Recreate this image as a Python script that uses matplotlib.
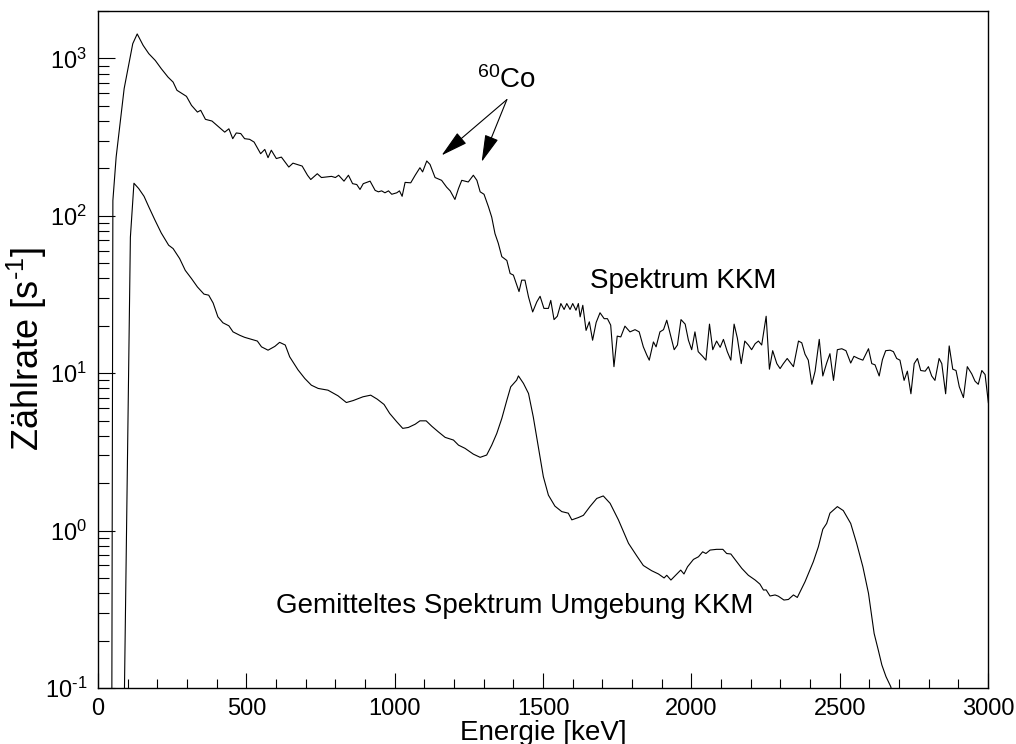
import numpy as np
import matplotlib
matplotlib.use('Agg')
import matplotlib.pyplot as plt
from matplotlib.ticker import LogLocator, MultipleLocator, NullFormatter, FuncFormatter

plt.rcParams['font.family'] = ['Liberation Sans', 'DejaVu Sans']
plt.rcParams['mathtext.fontset'] = 'custom'
plt.rcParams['mathtext.rm'] = 'Liberation Sans'
plt.rcParams['mathtext.it'] = 'Liberation Sans'

# Spektrum KKM (energy keV, count rate 1/s)
kkm_energy = [46, 50, 61, 88, 117, 132, 152, 171, 193, 213, 236, 253, 266, 298, 315, 335, 346,
              362, 384, 410, 427, 441, 454, 466, 481, 494, 511, 526, 548, 562, 573, 584, 601,
              618, 643, 657, 688, 706, 717, 739, 753, 787, 800, 811, 829, 844, 858, 872, 883,
              894, 917, 934, 945, 956, 967, 979, 990, 1007, 1016, 1025, 1035, 1054, 1069, 1085,
              1094, 1108, 1119, 1136, 1158, 1175, 1187, 1203, 1215, 1226, 1248, 1265, 1277, 1288,
              1301, 1316, 1327, 1338, 1349, 1361, 1378, 1389, 1400, 1419, 1428, 1439, 1451, 1465,
              1479, 1490, 1503, 1518, 1526, 1537, 1548, 1560, 1571, 1580, 1591, 1600, 1611, 1619,
              1625, 1634, 1645, 1656, 1667, 1679, 1692, 1706, 1717, 1728, 1739, 1750, 1762, 1776,
              1793, 1810, 1824, 1838, 1850, 1858, 1872, 1881, 1894, 1906, 1917, 1928, 1942, 1953,
              1965, 1979, 1990, 2001, 2012, 2023, 2038, 2049, 2061, 2072, 2085, 2097, 2108, 2121,
              2133, 2144, 2155, 2168, 2180, 2192, 2203, 2215, 2226, 2237, 2252, 2263, 2274, 2288,
              2299, 2310, 2323, 2344, 2361, 2372, 2383, 2394, 2406, 2417, 2431, 2443, 2456, 2467,
              2479, 2492, 2507, 2521, 2537, 2548, 2563, 2578, 2597, 2608, 2619, 2633, 2644, 2655,
              2670, 2681, 2692, 2703, 2717, 2728, 2740, 2751, 2762, 2773, 2788, 2799, 2810, 2821,
              2835, 2844, 2857, 2869, 2881, 2892, 2903, 2917, 2930, 2945, 2956, 2967, 2979, 2990,
              3001]
kkm_rate = [0.03, 125, 236, 643, 1240, 1430, 1210, 1072, 970, 861, 760, 707, 627, 574, 503, 456, 468,
            410, 400, 363, 340, 357, 309, 336, 333, 309, 306, 294, 248, 264, 234, 261, 231,
            236, 204, 216, 207, 181, 170, 185, 175, 178, 175, 181, 166, 181, 160, 158, 147,
            160, 166, 145, 142, 144, 140, 144, 137, 140, 144, 133, 163, 162, 181, 202,
            190, 223, 212, 175, 168, 152, 144, 127, 149, 168, 164, 181, 168, 142,
            137, 114, 98, 77, 67, 55, 52, 43, 42, 33, 39, 39, 30.5, 24.5,
            28.4, 30.8, 25.8, 25.8, 29, 21.9, 23, 27.7, 25.4, 27.7, 25.4, 27.7, 25.1, 27.7,
            22.8, 27, 18.7, 21.2, 16.2, 21.0, 24.2, 22.2, 22.2, 20.2, 11.0, 17.2, 17.0, 19.9,
            18.3, 18.9, 18.3, 14.7, 13.0, 12.1, 15.8, 14.7, 18.3, 18.9, 21.7, 17.9, 14.1, 15.1,
            21.9, 20.5, 16.2, 14.1, 18.3, 13.7, 12.8, 12.1, 20.5, 14.1, 16.0, 14.6, 16.4, 13.7,
            12.1, 20.5, 16.7, 11.5, 16.0, 15.1, 14.1, 15.4, 16.0, 15.1, 23.0, 10.6, 13.9, 11.5,
            10.7, 11.5, 12.4, 11.0, 16.0, 15.6, 13.2, 12.1, 8.5, 10.3, 16.4, 9.6, 11.6, 13.3,
            9.0, 14.1, 14.3, 13.9, 11.6, 12.8, 12.4, 12.1, 14.3, 11.5, 11.3, 9.6, 12.2, 13.9,
            14.0, 13.7, 12.4, 12.1, 9.0, 10.3, 7.4, 11.5, 12.4, 10.4, 10.3, 11.0, 9.6, 9.0,
            12.4, 11.5, 7.4, 14.9, 10.6, 10.4, 8.2, 7.0, 11.0, 9.9, 8.9, 8.5, 10.4, 9.8,
            6.5]

# Gemitteltes Spektrum Umgebung KKM
umg_energy = [87, 109, 121, 137, 155, 171, 191, 213, 238, 253, 275, 294, 315, 335, 357, 373, 388,
              404, 421, 441, 455, 478, 494, 517, 537, 551, 573, 596, 612, 631, 646, 674, 697,
              719, 742, 775, 809, 837, 860, 893, 919, 941, 964, 983, 1007, 1027, 1046, 1069,
              1085, 1106, 1125, 1147, 1170, 1198, 1215, 1237, 1265, 1288, 1310, 1327, 1344, 1361,
              1378, 1391, 1411, 1417, 1434, 1451, 1467, 1484, 1501, 1518, 1540, 1563, 1585, 1597,
              1619, 1636, 1658, 1681, 1703, 1726, 1754, 1788, 1816, 1838, 1866, 1889, 1908, 1917,
              1931, 1951, 1964, 1975, 1987, 2007, 2024, 2038, 2049, 2063, 2085, 2106, 2119, 2133,
              2153, 2170, 2192, 2215, 2231, 2243, 2252, 2265, 2282, 2293, 2312, 2327, 2344, 2357,
              2383, 2411, 2428, 2443, 2456, 2467, 2492, 2512, 2537, 2557, 2578, 2597, 2616, 2630,
              2642, 2656, 2672, 2700]
umg_rate = [0.05, 73, 161, 149, 133, 114, 94.6, 77.8, 65, 61.9, 53.5, 45, 39.9, 35.3, 31.8, 31.3, 27.9,
            22.8, 20.9, 20.0, 18.3, 17.4, 16.9, 16.4, 16.0, 14.7, 14.0, 14.8, 15.7, 15.1, 12.7, 10.5, 9.25,
            8.39, 8.0, 7.8, 7.18, 6.51, 6.7, 7.08, 7.25, 6.84, 6.33, 5.55, 4.91, 4.46, 4.52, 4.74,
            4.98, 4.98, 4.6, 4.24, 3.91, 3.76, 3.49, 3.33, 3.06, 2.92, 3.02, 3.49, 4.14, 5.16,
            6.74, 8.19, 9.03, 9.61, 8.61, 7.43, 5.28, 3.41, 2.2, 1.68, 1.43, 1.32, 1.29, 1.17,
            1.21, 1.25, 1.42, 1.6, 1.66, 1.49, 1.17, 0.83, 0.69, 0.60, 0.556, 0.53, 0.50, 0.52,
            0.485, 0.53, 0.561, 0.53, 0.589, 0.656, 0.682, 0.733, 0.715, 0.752, 0.76, 0.76, 0.715, 0.71,
            0.634, 0.575, 0.52, 0.485, 0.457, 0.419, 0.42, 0.384, 0.39, 0.383, 0.362, 0.365, 0.39, 0.376,
            0.473, 0.634, 0.789, 1.02, 1.11, 1.29, 1.42, 1.34, 1.11, 0.83, 0.589, 0.399, 0.222, 0.174,
            0.14, 0.118, 0.102, 0.06]

co_label_pos = (1377, 646)
co_arrow_start = (1378, 547)
co_arrow_tips = [(1158, 242), (1293, 220)]


def log_label(v, pos):
    exp = int(round(np.log10(v)))
    s = str(exp).replace('-', '\u2010')
    return '$\\mathdefault{10^{%s}}$' % s


fig = plt.figure(figsize=(10.16, 7.44), dpi=100)
ax = fig.add_axes([0.0965, 0.0753, 0.876, 0.9099])

ax.plot(kkm_energy, kkm_rate, color='black', lw=0.8)
ax.plot(umg_energy, umg_rate, color='black', lw=0.8)

ax.set_yscale('log')
ax.set_xlim(0, 3000)
ax.set_ylim(0.1, 2000)

ax.xaxis.set_major_locator(MultipleLocator(500))
ax.xaxis.set_minor_locator(MultipleLocator(100))
ax.yaxis.set_major_locator(LogLocator(base=10, numticks=10))
ax.yaxis.set_major_formatter(FuncFormatter(log_label))
ax.yaxis.set_minor_locator(LogLocator(base=10, subs=np.arange(2, 10), numticks=20))
ax.yaxis.set_minor_formatter(NullFormatter())

ax.tick_params(axis='both', which='both', direction='in', top=False, right=False,
               labelsize=17, width=0.8, color='black')
ax.tick_params(axis='x', which='major', length=11, pad=7)
ax.tick_params(axis='x', which='minor', length=6.7)
ax.tick_params(axis='y', which='major', length=12.5, pad=8)
ax.tick_params(axis='y', which='minor', length=8.2)
for s in ax.spines.values():
    s.set_linewidth(1.0)

ax.set_xlabel('Energie [keV]', fontsize=20, labelpad=0)
ax.set_ylabel('Zählrate [s$^{\u20101}$]', fontsize=26, labelpad=-3)

ax.text(1658, 35, 'Spektrum KKM', fontsize=20, ha='left', va='baseline')
ax.text(600, 0.30, 'Gemitteltes Spektrum Umgebung KKM', fontsize=20, ha='left', va='baseline')

ax.text(co_label_pos[0], co_label_pos[1], '$^{60}$Co', fontsize=20, ha='center', va='baseline')
for tip in co_arrow_tips:
    ax.annotate('', xy=tip, xytext=co_arrow_start,
                arrowprops=dict(arrowstyle='-|>,head_length=0.85,head_width=0.22',
                                mutation_scale=20, color='black', lw=0.8,
                                shrinkA=0, shrinkB=0))

fig.savefig('out.png', dpi=100)
